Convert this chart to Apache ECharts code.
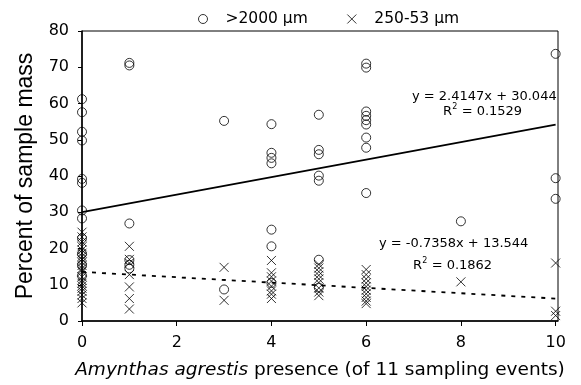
<!DOCTYPE html>
<html>
<head>
<meta charset="utf-8">
<script src="https://cdn.jsdelivr.net/npm/echarts@6/dist/echarts.min.js"></script>
<style>html,body{margin:0;padding:0;background:#fff}#c{width:581px;height:385px}</style>
</head>
<body>
<div id="c"></div>
<script>
// >2000 µm fraction (circles): [presence, percent]
var coarsePoints = [
  [0,61.2],[0,57.6],[0,52.2],[0,49.8],[0,39.2],[0,38.1],[0,30.5],[0,28.3],[0,22.8],[0,18.5],[0,15.5],[0,12.5],
  [1,71.2],[1,70.5],[1,26.9],[1,16.8],[1,15.5],[1,14.5],
  [3,55.2],[3,8.7],
  [4,54.3],[4,46.4],[4,45.0],[4,43.5],[4,25.2],[4,20.6],[4,10.5],
  [5,56.9],[5,47.2],[5,46.0],[5,40.1],[5,38.7],[5,16.9],[5,9.2],
  [6,71.0],[6,69.9],[6,57.8],[6,56.6],[6,55.4],[6,54.2],[6,50.6],[6,47.8],[6,35.3],
  [8,27.5],
  [10,73.7],[10,39.4],[10,33.7]
];
// 250-53 µm fraction (crosses): [presence, percent]
var finePoints = [
  [0,24.5],[0,23.2],[0,21.8],[0,20.5],[0,19.6],[0,18.7],[0,17.8],[0,17.0],[0,16.2],[0,15.3],[0,14.5],[0,13.6],
  [0,12.2],[0,11.2],[0,10.4],[0,9.7],[0,9.0],[0,8.2],[0,7.2],[0,6.2],[0,5.0],
  [1,20.6],[1,17.0],[1,16.0],[1,12.8],[1,9.4],[1,6.2],[1,3.3],
  [3,14.8],[3,5.7],
  [4,16.7],[4,13.3],[4,12.2],[4,11.0],[4,9.6],[4,8.3],[4,7.4],[4,6.2],
  [5,15.6],[5,14.6],[5,13.6],[5,12.6],[5,11.6],[5,10.6],[5,9.1],[5,8.0],[5,7.0],
  [6,14.2],[6,12.8],[6,11.6],[6,10.5],[6,9.5],[6,8.5],[6,7.5],[6,6.5],[6,5.5],[6,4.8],
  [8,10.8],
  [10,16.0],[10,2.7],[10,1.5]
];
// trend lines: [slope, intercept]
var coarseFit = [2.4147, 30.044];
var fineFit = [-0.7358, 13.544];
var fitRange = [0, 10];
var xTicks = [0, 2, 4, 6, 8, 10];
var legendNames = ['>2000 \u00b5m', '250-53 \u00b5m'];
var coarseEq = ['y = 2.4147x + 30.044', ' = 0.1529'];
var fineEq = ['y = -0.7358x + 13.544', ' = 0.1862'];

function fitLine(f){ return fitRange.map(function(x){ return [x, f[0]*x + f[1]]; }); }

var crossPath = 'path://M0,0L10,10M0,10L10,0';
var wide = '"DejaVu Sans", sans-serif';
var narrow = '"Liberation Sans", Arial, sans-serif';

function r2(left, top, val){
  return [
    {type: 'text', left: left, top: top, style: {text: 'R', font: '13px ' + wide, fill: '#000'}},
    {type: 'text', left: left + 9.3, top: top - 2.5, style: {text: '2', font: '8px ' + wide, fill: '#000'}},
    {type: 'text', left: left + 14.5, top: top, style: {text: val, font: '13px ' + wide, fill: '#000'}}
  ];
}

var chart = echarts.init(document.getElementById('c'));
chart.setOption({
  animation: false,
  textStyle: {fontFamily: wide, color: '#000'},
  grid: {left: 82, right: 23, top: 31, bottom: 62, show: true, borderColor: '#000', borderWidth: 1, containLabel: false},
  legend: {
    top: 6, left: 191, itemGap: 37, itemWidth: 9, itemHeight: 9,
    textStyle: {fontSize: 15.5, fontFamily: wide, color: '#000', padding: [0,0,0,13]},
    data: [{name: legendNames[0], icon: 'circle'}, {name: legendNames[1], icon: crossPath}],
    itemStyle: {color: 'none', borderColor: '#000', borderWidth: 1}
  },
  xAxis: {
    type: 'value', min: 0, max: 10.05, interval: 2,
    axisLine: {lineStyle: {color: '#000', width: 1.5}},
    axisTick: {show: true, length: 5, lineStyle: {color: '#000'}, customValues: xTicks},
    axisLabel: {fontSize: 16, fontFamily: wide, color: '#000', margin: 14, customValues: xTicks},
    splitLine: {show: false},
    name: '{i|Amynthas agrestis} presence (of 11 sampling events)',
    nameLocation: 'middle', nameGap: 40,
    nameTextStyle: {fontSize: 18.5, fontFamily: wide, color: '#000',
      rich: {i: {fontStyle: 'italic', fontSize: 18.5, fontFamily: wide, color: '#000'}}}
  },
  yAxis: {
    type: 'value', min: 0, max: 80, interval: 10,
    axisLine: {show: true, lineStyle: {color: '#000', width: 1.5}},
    axisTick: {show: true, length: 4, lineStyle: {color: '#000'}},
    axisLabel: {fontSize: 16, fontFamily: wide, color: '#000', margin: 13},
    splitLine: {show: false},
    name: 'Percent of sample mass', nameLocation: 'middle', nameGap: 45,
    nameTextStyle: {fontSize: 23, fontFamily: narrow, color: '#000'}
  },
  series: [
    {name: legendNames[0], type: 'scatter', symbol: 'circle', symbolSize: 9, data: coarsePoints,
     itemStyle: {color: 'none', borderColor: '#000', borderWidth: 1}, z: 3},
    {name: legendNames[1], type: 'scatter', symbol: crossPath, symbolSize: 9, data: finePoints,
     itemStyle: {color: 'none', borderColor: '#000', borderWidth: 1}, z: 3},
    {name: 'fitCoarse', type: 'line', data: fitLine(coarseFit), symbol: 'none',
     lineStyle: {color: '#000', width: 1.8, type: 'solid'}, z: 2},
    {name: 'fitFine', type: 'line', data: fitLine(fineFit), symbol: 'none',
     lineStyle: {color: '#000', width: 1.8, type: [4, 6]}, z: 2}
  ],
  graphic: [
    {type: 'text', left: 412, top: 90, style: {text: coarseEq[0], font: '13px ' + wide, fill: '#000'}},
    {type: 'text', left: 379, top: 237, style: {text: fineEq[0], font: '13px ' + wide, fill: '#000'}}
  ].concat(r2(443, 105, coarseEq[1])).concat(r2(413, 259, fineEq[1]))
});
</script>
</body>
</html>
